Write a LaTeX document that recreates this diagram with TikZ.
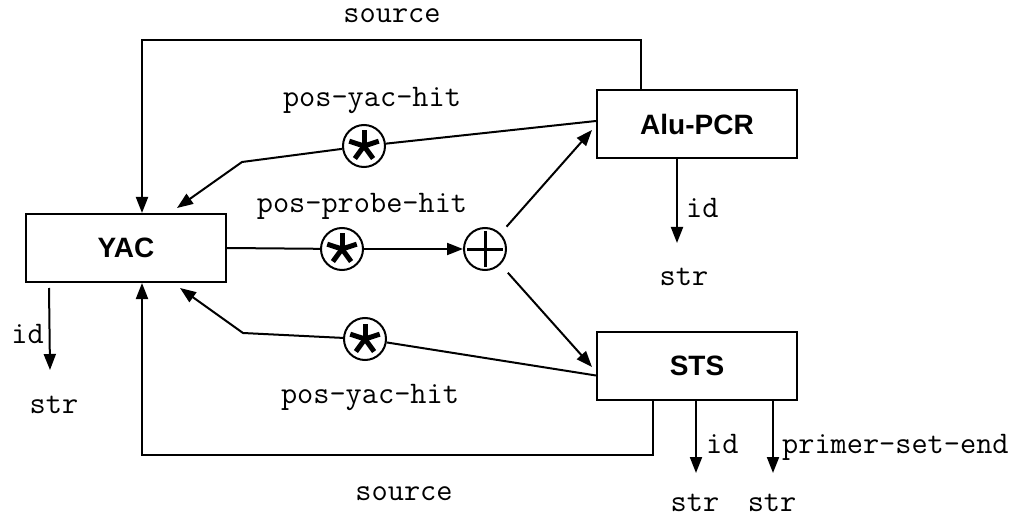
\documentclass[tikz,border=0pt]{standalone}
\usepackage{fontspec}
\setmainfont{Liberation Sans}
\usetikzlibrary{arrows.meta,calc}
\begin{document}
\begin{tikzpicture}[x=1pt,y=-1pt,
  box/.style={draw, line width=2pt, minimum width=200pt, minimum height=68pt, inner sep=0pt,
    font=\fontsize{28}{30}\selectfont\bfseries},
  lbl/.style={inner sep=0pt, font=\fontsize{31.4}{33}\selectfont\ttfamily},
  conn/.style={line width=2pt},
  arr/.style={conn, -{Triangle[length=16pt,width=12pt]}},
  opstar/.style={circle, draw, line width=2pt, minimum size=42pt, inner sep=0pt,
    path picture={\foreach \a in {90,162,234,306,18}{\draw[line width=5pt] (path picture bounding box.center) -- ++(\a:15.5pt);}}},
  opplus/.style={circle, draw, line width=2pt, minimum size=42pt, inner sep=0pt,
    path picture={\draw[line width=3pt] ([xshift=-18pt]path picture bounding box.center) -- ([xshift=18pt]path picture bounding box.center);
                  \draw[line width=3pt] ([yshift=-18pt]path picture bounding box.center) -- ([yshift=18pt]path picture bounding box.center);}}
]
\useasboundingbox (0,0) rectangle (1021,516);

% boxes
\node[box] (yac) at (126,248) {YAC};
\node[box] (alu) at (697,124) {Alu-PCR};
\node[box] (sts) at (697,365.5) {STS};

% operators
\node[opstar] (s1) at (364,146) {};
\node[opstar] (s2) at (342,249) {};
\node[opplus] (plus) at (485,249) {};
\node[opstar] (s3) at (365,339) {};

% helper coordinates
\coordinate (srcT) at (142,40);
\coordinate (srcB) at (142,455);
\coordinate (b1) at (242,162);
\coordinate (b2) at (243,333);
\coordinate (yacInT) at ([shift={(51pt,5pt)}]yac.north);
\coordinate (yacInB) at ([shift={(54pt,-5pt)}]yac.south);
\coordinate (aluIn) at ([shift={(-4pt,-6pt)}]alu.west);
\coordinate (stsIn) at ([shift={(-4pt,-1.5pt)}]sts.west);
\coordinate (yacIdEnd) at (50,370);
\coordinate (aluIdEnd) at (677,243);
\coordinate (stsIdEnd) at (696,473);
\coordinate (stsPrEnd) at (773,473);

% source loops
\draw[arr] ([xshift=45pt]alu.north west) |- (srcT) -- (srcT |- yac.north);
\draw[arr] ([xshift=57pt]sts.south west) |- (srcB) -- (srcB |- yac.south);

% pos-yac-hit (top)
\draw[conn] ([yshift=3pt]alu.west) -- (s1);
\draw[arr] (s1) -- (b1) -- (yacInT);

% pos-probe-hit
\draw[conn] (yac.east) -- (s2);
\draw[arr] (s2) -- (plus);
\draw[arr, shorten <=9pt] (plus.45) -- (aluIn);
\draw[arr, shorten <=11pt] (plus.-45) -- (stsIn);

% pos-yac-hit (bottom)
\draw[conn] ([yshift=-10pt]sts.west) -- (s3);
\draw[arr] (s3) -- (b2) -- (yacInB);

% id / str outputs
\draw[arr] ([shift={(24pt,-5pt)}]yac.south west) -- (yacIdEnd);
\draw[arr] (alu.south -| aluIdEnd) -- (aluIdEnd);
\draw[arr] (sts.south -| stsIdEnd) -- (stsIdEnd);
\draw[arr] (sts.south -| stsPrEnd) -- (stsPrEnd);

% labels
\node[lbl, anchor=base] (lsrcT) at (392,23) {source};
\node[lbl, anchor=base] (lsrcB) at (404,500) {source};
\node[lbl, anchor=base] (lyacT) at (372,107) {pos-yac-hit};
\node[lbl, anchor=base] (lprobe) at (362,212) {pos-probe-hit};
\node[lbl, anchor=base] (lyacB) at (370,403) {pos-yac-hit};
\node[lbl, anchor=base east] (lid1) at (44,343) {id};
\node[lbl, anchor=base] (lstr1) at (54,413) {str};
\node[lbl, anchor=base west] (lid2) at (686,218) {id};
\node[lbl, anchor=base] (lstr2) at (684,285) {str};
\node[lbl, anchor=base west] (lid3) at (706,453) {id};
\node[lbl, anchor=base west] (lpr) at (782,453) {primer-set-end};
\node[lbl, anchor=base] (lstr3) at (695,511) {str};
\node[lbl, anchor=base] (lstr4) at (772,511) {str};
\end{tikzpicture}
\end{document}
